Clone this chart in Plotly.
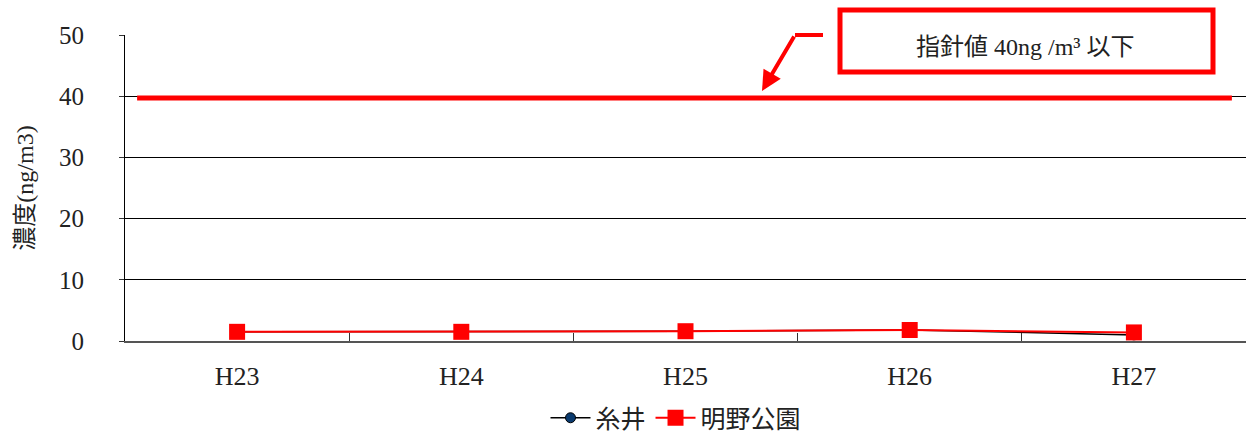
import plotly.graph_objects as go

years = ["H23", "H24", "H25", "H26", "H27"]
itoi = [1.5, 1.5, 1.6, 1.8, 1.0]
akeno = [1.5, 1.5, 1.6, 1.8, 1.4]
guideline = 40
y_ticks = [0, 10, 20, 30, 40, 50]

SERIF = "Liberation Serif, DejaVu Serif, Noto Sans CJK JP, serif"
CJK = "Noto Sans CJK JP, Noto Sans CJK SC, sans-serif"

W, H = 1246, 436
L, T, B, R = 125, 35, 95, 0
pw = W - L - R
ph = H - T - B

def px(x):
    return (x - L) / pw

def py(y):
    return (H - B - y) / ph

fig = go.Figure()
fig.add_trace(go.Scatter(
    x=years, y=itoi, name="糸井", mode="lines+markers",
    line=dict(color="#000000", width=1.5),
    marker=dict(symbol="circle", size=10, color="#0a3a6e", line=dict(color="#000000", width=1)),
))
fig.add_trace(go.Scatter(
    x=years, y=akeno, name="明野公園", mode="lines+markers",
    line=dict(color="#ff0000", width=2),
    marker=dict(symbol="square", size=16, color="#ff0000"),
))

# guideline
fig.add_shape(type="line", xref="x", yref="y", x0=-0.446, x1=4.437,
              y0=guideline - 0.3, y1=guideline - 0.3,
              line=dict(color="#ff0000", width=5))

# annotation box
fig.add_shape(type="rect", xref="paper", yref="paper",
              x0=px(840), x1=px(1213), y0=py(72), y1=py(10),
              line=dict(color="#ff0000", width=5), fillcolor="white")
fig.add_annotation(xref="paper", yref="paper", x=px(1025), y=py(47),
                   xanchor="center", yanchor="middle",
                   text="指針値 40ng /m³ 以下", showarrow=False,
                   font=dict(family=SERIF, size=24, color="#222222"))
fig.add_shape(type="line", xref="paper", yref="paper",
              x0=px(823), x1=px(795), y0=py(35), y1=py(35),
              line=dict(color="#ff0000", width=4))
fig.add_annotation(xref="paper", yref="paper", x=px(762), y=py(91),
                   ax=795 - 762, ay=35 - 91, text="", showarrow=True,
                   arrowhead=2, arrowsize=1, arrowwidth=4, arrowcolor="#ff0000")

fig.update_layout(
    width=W, height=H,
    margin=dict(l=L, r=R, t=T, b=B, autoexpand=False),
    paper_bgcolor="white", plot_bgcolor="white",
    showlegend=True,
    legend=dict(orientation="h", x=px(676), xanchor="center", y=py(418), yanchor="middle",
                font=dict(family=CJK, size=25, color="#222222"), itemwidth=40),
    xaxis=dict(
        type="category", range=[-0.5, 4.5],
        tickson="boundaries", ticks="inside", ticklen=8, tickcolor="#333333",
        showline=True, linecolor="#555555", linewidth=2,
        showgrid=False,
        tickfont=dict(family=SERIF, size=26, color="#222222"),
        ticklabelstandoff=11,
    ),
    yaxis=dict(
        range=[0, 50], tickvals=y_ticks,
        ticks="outside", ticklen=5, tickcolor="#333333",
        showline=True, linecolor="#000000", linewidth=1,
        showgrid=True, gridcolor="#000000", gridwidth=1,
        zeroline=False,
        tickfont=dict(family=SERIF, size=25, color="#222222"),
        ticklabelstandoff=30,
        title=dict(text="濃度(ng/m3)", font=dict(family=SERIF, size=24, color="#222222"), standoff=18),
    ),
)

fig.write_html(
    "out.html",
    config={"displayModeBar": False},
    post_script="document.body.style.margin='0';document.body.style.padding='0';document.body.style.overflow='hidden';",
)
